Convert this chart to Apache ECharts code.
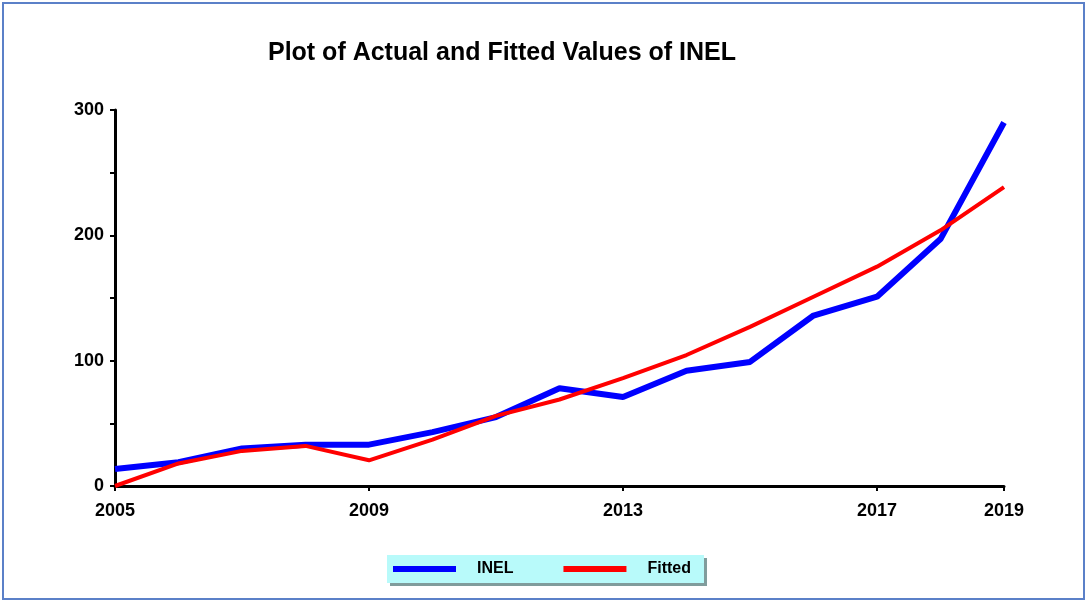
<!DOCTYPE html>
<html>
<head>
<meta charset="utf-8">
<title>INEL actual vs fitted</title>
<script src="https://cdn.jsdelivr.net/npm/echarts@6/dist/echarts.min.js"></script>
<style>
  html, body { margin: 0; padding: 0; background: #fff; }
  #frame {
    position: absolute; left: 2px; top: 2px; width: 1079px; height: 594px;
    border: 2px solid #5b80c8;
  }
  #chart { position: absolute; left: 0; top: 0; width: 1086px; height: 601px; }
</style>
</head>
<body>
<div id="frame"></div>
<div id="chart"></div>
<script>
// years on the x axis
const years = ['2005', '2006', '2007', '2008', '2009', '2010', '2011', '2012',
  '2013', '2014', '2015', '2016', '2017', '2018', '2019']
// actual values of INEL
const inel = [13.5, 19, 30, 33, 33, 43, 55, 78, 71, 92, 99, 136, 151, 197, 290]
// fitted values
const fitted = [0, 18, 28, 32, 20.5, 37, 56, 69, 86, 104.5, 127, 151, 175, 204, 238.5]
// which year labels are shown
const shownYears = ['2005', '2009', '2013', '2017', '2019']

const font = 'Liberation Sans, Arial, sans-serif'
const dom = echarts.init(document.getElementById('chart'))

const option = {
  animation: false,
  title: {
    text: 'Plot of Actual and Fitted Values of INEL',
    left: 497,
    textAlign: 'center',
    top: 36,
    textStyle: { fontFamily: font, fontWeight: 'bold', fontSize: 25, color: '#000' }
  },
  legend: {
    left: 387,
    top: 555,
    padding: [6, 13, 6, 6],
    itemWidth: 63,
    itemHeight: 6,
    itemGap: 50,
    icon: 'rect',
    backgroundColor: '#b8fafa',
    shadowColor: '#809c9c',
    shadowOffsetX: 3,
    shadowOffsetY: 3,
    shadowBlur: 0,
    textStyle: { fontFamily: font, fontWeight: 'bold', fontSize: 16, color: '#000', padding: [0, 0, 0, 16] },
    data: [
      { name: 'INEL', itemStyle: { color: '#0000ff' } },
      { name: 'Fitted', itemStyle: { color: '#ff0000' } }
    ]
  },
  grid: { left: 115, right: 82, top: 110, bottom: 115 },
  xAxis: {
    type: 'category',
    boundaryGap: false,
    data: years,
    axisLine: { lineStyle: { color: '#000', width: 3 } },
    axisTick: {
      length: 5,
      lineStyle: { color: '#000', width: 2 },
      interval: (i, v) => shownYears.includes(v)
    },
    axisLabel: {
      interval: (i, v) => shownYears.includes(v),
      margin: 16,
      fontFamily: font, fontWeight: 'bold', fontSize: 18, color: '#000'
    },
    splitLine: { show: false }
  },
  yAxis: {
    type: 'value',
    min: 0,
    max: 300,
    interval: 50,
    axisLine: { show: true, lineStyle: { color: '#000', width: 3 } },
    axisTick: { show: true, length: 5, lineStyle: { color: '#000', width: 2 } },
    axisLabel: {
      formatter: v => (v % 100 === 0 ? String(v) : ''),
      margin: 11,
      fontFamily: font, fontWeight: 'bold', fontSize: 18, color: '#000'
    },
    splitLine: { show: false }
  },
  series: [
    {
      name: 'INEL',
      type: 'line',
      data: inel,
      showSymbol: false,
      color: '#0000ff',
      lineStyle: { width: 6, color: '#0000ff' }
    },
    {
      name: 'Fitted',
      type: 'line',
      data: fitted,
      showSymbol: false,
      color: '#ff0000',
      lineStyle: { width: 4, color: '#ff0000' }
    }
  ]
}

dom.setOption(option)
</script>
</body>
</html>
